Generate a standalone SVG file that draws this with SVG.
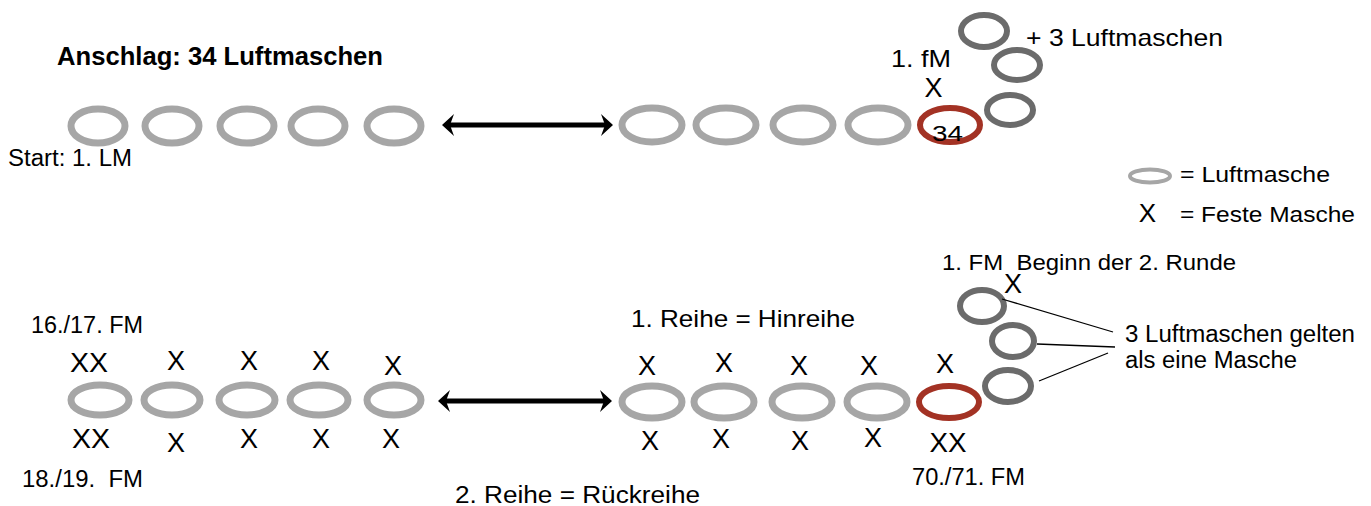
<svg xmlns="http://www.w3.org/2000/svg" width="1371" height="506" viewBox="0 0 1371 506">
<style>
text{font-family:"Liberation Sans",Arial,sans-serif;fill:#000}
.t{font-size:23px}
.x{font-size:27px;text-anchor:middle}
.b{font-size:25px;font-weight:bold}
.lm{fill:none;stroke:#a6a6a6;stroke-width:7}
.dk{fill:none;stroke:#6b6b6b;stroke-width:6}
.rd{fill:none;stroke:#a33224;stroke-width:6}
.arr{stroke:#000;stroke-width:5;fill:none;marker-start:url(#ah);marker-end:url(#ah)}
.ln{stroke:#000;stroke-width:1.3;fill:none}
</style>
<defs>
<marker id="ah" markerUnits="userSpaceOnUse" markerWidth="13" markerHeight="22" refX="5" refY="11" orient="auto-start-reverse" viewBox="0 0 13 22">
<path d="M0,0 L12,11 L0,22 L4,11 z" fill="#000"/>
</marker>
</defs>

<g id="title"><text class="b" x="57" y="65" textLength="326" lengthAdjust="spacingAndGlyphs">Anschlag: 34 Luftmaschen</text></g>

<g id="row1">
<ellipse class="lm" cx="98" cy="126" rx="27" ry="17"/>
<ellipse class="lm" cx="172" cy="126" rx="27" ry="17"/>
<ellipse class="lm" cx="247" cy="126" rx="27" ry="17"/>
<ellipse class="lm" cx="318" cy="126" rx="27" ry="17"/>
<ellipse class="lm" cx="394" cy="126" rx="27" ry="17"/>
<ellipse class="lm" cx="652" cy="125" rx="30" ry="17"/>
<ellipse class="lm" cx="726" cy="125" rx="30" ry="17"/>
<ellipse class="lm" cx="803" cy="125" rx="30" ry="17"/>
<ellipse class="lm" cx="878" cy="125" rx="30" ry="17"/>
</g>
<g id="m34">
<ellipse class="rd" cx="950" cy="125" rx="30" ry="17"/>
<text x="932" y="141" style="font-size:22px" textLength="31" lengthAdjust="spacingAndGlyphs">34</text>
</g>
<g id="top-turn">
<ellipse class="dk" cx="984" cy="31" rx="23" ry="16"/>
<ellipse class="dk" cx="1017" cy="65" rx="23" ry="15"/>
<ellipse class="dk" cx="1010" cy="110" rx="23" ry="15"/>
<text x="1026" y="46" style="font-size:24px" textLength="197" lengthAdjust="spacingAndGlyphs">+ 3 Luftmaschen</text>
<text x="891" y="67" style="font-size:24px" textLength="60" lengthAdjust="spacingAndGlyphs">1. fM</text>
<text class="x" x="933.5" y="97">X</text>
</g>
<g id="start"><text x="8" y="166" style="font-size:23px" textLength="124" lengthAdjust="spacingAndGlyphs">Start: 1. LM</text></g>

<g id="legend">
<ellipse cx="1150" cy="176" rx="20" ry="6.5" fill="none" stroke="#a6a6a6" stroke-width="4"/>
<text x="1180" y="182" style="font-size:22px" textLength="150" lengthAdjust="spacingAndGlyphs">= Luftmasche</text>
<text x="1147.5" y="222" style="font-size:26px;text-anchor:middle">X</text>
<text x="1180" y="222" style="font-size:22px" textLength="175" lengthAdjust="spacingAndGlyphs">= Feste Masche</text>
</g>

<g id="row2">
<ellipse class="lm" cx="100" cy="400" rx="29" ry="15"/>
<ellipse class="lm" cx="172" cy="400" rx="28" ry="15"/>
<ellipse class="lm" cx="247" cy="400" rx="28" ry="15"/>
<ellipse class="lm" cx="319" cy="400" rx="29" ry="15"/>
<ellipse class="lm" cx="394" cy="400" rx="27" ry="15"/>
<ellipse class="lm" cx="652" cy="402" rx="30" ry="16"/>
<ellipse class="lm" cx="724" cy="402" rx="30" ry="16"/>
<ellipse class="lm" cx="802" cy="402" rx="30" ry="16"/>
<ellipse class="lm" cx="877" cy="402" rx="30" ry="16"/>
<ellipse class="rd" cx="949" cy="402" rx="30" ry="16"/>
</g>
<g id="row2-x-top">
<text class="x" x="89" y="372" textLength="38" lengthAdjust="spacingAndGlyphs">XX</text>
<text class="x" x="176" y="370">X</text>
<text class="x" x="249" y="370">X</text>
<text class="x" x="321" y="370">X</text>
<text class="x" x="393" y="375">X</text>
<text class="x" x="647" y="375">X</text>
<text class="x" x="724" y="372">X</text>
<text class="x" x="799" y="375">X</text>
<text class="x" x="869" y="375">X</text>
<text class="x" x="945" y="373">X</text>
</g>
<g id="row2-x-bottom">
<text class="x" x="91" y="448" textLength="38" lengthAdjust="spacingAndGlyphs">XX</text>
<text class="x" x="176" y="452">X</text>
<text class="x" x="249" y="448">X</text>
<text class="x" x="321" y="448">X</text>
<text class="x" x="391" y="448">X</text>
<text class="x" x="650" y="450">X</text>
<text class="x" x="721" y="448">X</text>
<text class="x" x="800" y="450">X</text>
<text class="x" x="873" y="447">X</text>
<text class="x" x="948" y="452" textLength="37" lengthAdjust="spacingAndGlyphs">XX</text>
</g>
<g id="bottom-turn">
<ellipse class="dk" cx="982" cy="306" rx="22" ry="16"/>
<ellipse class="dk" cx="1013" cy="341" rx="21" ry="16"/>
<ellipse class="dk" cx="1008" cy="386" rx="23" ry="16"/>
<text class="x" x="1013" y="293">X</text>
<text x="942" y="270" style="font-size:22px" xml:space="preserve" textLength="294" lengthAdjust="spacingAndGlyphs">1. FM  Beginn der 2. Runde</text>
<text class="t" x="1125" y="342" textLength="230" lengthAdjust="spacingAndGlyphs">3 Luftmaschen gelten</text>
<text class="t" x="1125" y="368" textLength="172" lengthAdjust="spacingAndGlyphs">als eine Masche</text>
</g>
<g id="labels">
<text class="t" x="31" y="333" textLength="112" lengthAdjust="spacingAndGlyphs">16./17. FM</text>
<text class="t" x="22" y="487" xml:space="preserve" textLength="121" lengthAdjust="spacingAndGlyphs">18./19.  FM</text>
<text x="631" y="327" style="font-size:24px" textLength="224" lengthAdjust="spacingAndGlyphs">1. Reihe = Hinreihe</text>
<text class="t" x="912" y="485" textLength="113" lengthAdjust="spacingAndGlyphs">70./71. FM</text>
<text class="t" x="455" y="503" textLength="245" lengthAdjust="spacingAndGlyphs">2. Reihe = Rückreihe</text>
</g>

<g id="connectors">
<line class="arr" x1="449" y1="125" x2="606" y2="125"/>
<line class="arr" x1="445" y1="401" x2="605" y2="401"/>
<line class="ln" x1="1002" y1="299" x2="1113" y2="332"/>
<line class="ln" x1="1037" y1="344" x2="1115" y2="347"/>
<line class="ln" x1="1039" y1="381" x2="1108" y2="353"/>
</g>
</svg>
